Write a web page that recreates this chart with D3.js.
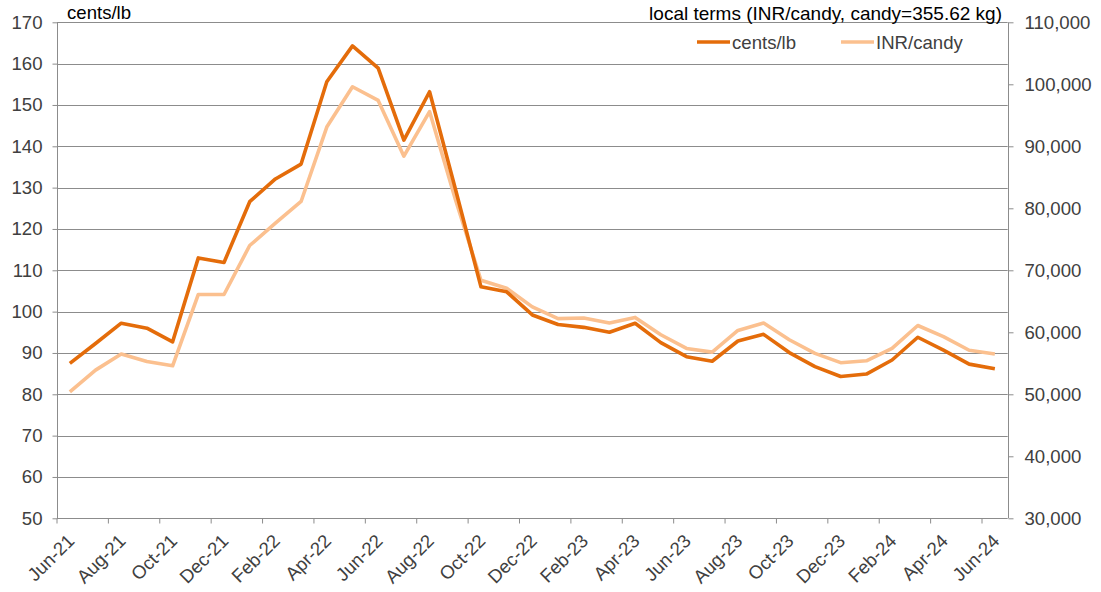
<!DOCTYPE html>
<html>
<head>
<meta charset="utf-8">
<script src="https://cdn.jsdelivr.net/npm/d3@7"></script>
<style>
  html, body { margin: 0; padding: 0; background: #fff; }
  svg { display: block; font-family: "Liberation Sans", Arial, sans-serif; }
</style>
</head>
<body>
<svg id="chart" width="1101" height="592"></svg>
<script>
// ---- data ----
const months = [
  "Jun-21","Jul-21","Aug-21","Sep-21","Oct-21","Nov-21","Dec-21",
  "Jan-22","Feb-22","Mar-22","Apr-22","May-22","Jun-22","Jul-22","Aug-22","Sep-22","Oct-22","Nov-22","Dec-22",
  "Jan-23","Feb-23","Mar-23","Apr-23","May-23","Jun-23","Jul-23","Aug-23","Sep-23","Oct-23","Nov-23","Dec-23",
  "Jan-24","Feb-24","Mar-24","Apr-24","May-24","Jun-24"
];
const centsPerLb = [
  87.5, 92.3, 97.2, 96.0, 92.7, 113.0, 111.9,
  126.6, 132.1, 135.7, 155.6, 164.3, 158.9, 141.5, 153.2, 129.8, 106.0, 104.8, 99.2,
  96.9, 96.2, 95.0, 97.2, 92.5, 89.1, 88.0, 92.9, 94.5, 90.1, 86.7, 84.3,
  84.9, 88.3, 93.8, 90.7, 87.3, 86.2
];
const inrPerCandy = [
  50400, 53900, 56500, 55300, 54600, 66100, 66100,
  74000, 77600, 81100, 93100, 99600, 97400, 88400, 95600, 81500, 68400, 67100, 64100,
  62200, 62300, 61500, 62400, 59600, 57400, 56800, 60300, 61500, 58800, 56600, 55100,
  55400, 57400, 61100, 59300, 57100, 56500
];
const leftTicks = [50, 60, 70, 80, 90, 100, 110, 120, 130, 140, 150, 160, 170];
const rightTicks = [30000, 40000, 50000, 60000, 70000, 80000, 90000, 100000, 110000];
const xLabels = months.filter((m, i) => i % 2 === 0);
const seriesNames = ["cents/lb", "INR/candy"];
const leftTitle = "cents/lb";
const rightTitle = "local terms (INR/candy, candy=355.62 kg)";

// ---- layout ----
const L = 57, R = 1007.7, T = 22.3, B = 518.3;
const dark = "#E46C0A", light = "#FBC08F";
const gridCol = "#8C8C8C", txtCol = "#404040";
const fs = "18.6px";

const svg = d3.select("#chart");
const x = d3.scaleBand().domain(months).range([L, R]).paddingInner(0).paddingOuter(0);
const yL = d3.scaleLinear().domain([50, 170]).range([B, T]);
const yR = d3.scaleLinear().domain([30000, 110000]).range([B, T]);
const bw = x.bandwidth();

// gridlines
svg.append("g").selectAll("line").data(leftTicks).join("line")
  .attr("x1", L).attr("x2", R)
  .attr("y1", d => Math.round(yL(d)) + 0.5).attr("y2", d => Math.round(yL(d)) + 0.5)
  .attr("stroke", gridCol).attr("stroke-width", 1);

// left axis
const gL = svg.append("g").attr("transform", `translate(${Math.round(L) + 0.5},0)`)
  .call(d3.axisLeft(yL).tickValues(leftTicks).tickSize(5).tickPadding(10).tickFormat(d3.format("d")));
gL.select(".domain").attr("stroke", gridCol).attr("d", `M0,${T}V${B}`);
gL.selectAll(".tick line").attr("stroke", gridCol);
gL.selectAll(".tick text").attr("fill", txtCol).style("font-size", fs)
  .style("font-family", "Liberation Sans, Arial, sans-serif");

// right axis
const gR = svg.append("g").attr("transform", `translate(${Math.round(R) + 0.5},0)`)
  .call(d3.axisRight(yR).tickValues(rightTicks).tickSize(5).tickPadding(11).tickFormat(d3.format(",")));
gR.select(".domain").attr("stroke", gridCol).attr("d", `M0,${T}V${B}`);
gR.selectAll(".tick line").attr("stroke", gridCol);
gR.selectAll(".tick text").attr("fill", txtCol).style("font-size", fs)
  .style("font-family", "Liberation Sans, Arial, sans-serif");

// bottom axis
const gB = svg.append("g").attr("transform", `translate(0,${Math.round(B) + 0.5})`)
  .call(d3.axisBottom(x).tickValues(xLabels).tickSize(5).tickSizeOuter(0));
gB.select(".domain").remove();
gB.selectAll(".tick line").attr("stroke", gridCol).attr("x1", -bw / 2).attr("x2", -bw / 2);
gB.selectAll(".tick text").attr("fill", txtCol).style("font-size", fs)
  .style("font-family", "Liberation Sans, Arial, sans-serif")
  .attr("text-anchor", "end")
  .attr("transform", "translate(1,19) rotate(-45)")
  .attr("y", 0).attr("dy", "0.35em").attr("x", 0);

// lines
const lineL = d3.line().x((d, i) => x(months[i]) + bw / 2).y(d => yL(d));
const lineR = d3.line().x((d, i) => x(months[i]) + bw / 2).y(d => yR(d));
svg.append("path").datum(inrPerCandy).attr("d", lineR)
  .attr("fill", "none").attr("stroke", light).attr("stroke-width", 3.6).attr("stroke-linejoin", "round");
svg.append("path").datum(centsPerLb).attr("d", lineL)
  .attr("fill", "none").attr("stroke", dark).attr("stroke-width", 3.6).attr("stroke-linejoin", "round");

// titles
svg.append("text").attr("x", 67).attr("y", 18.5).text(leftTitle)
  .style("font-size", fs).attr("fill", "#000");
svg.append("text").attr("x", 1002).attr("y", 19.5).attr("text-anchor", "end").text(rightTitle)
  .style("font-size", "19px").attr("fill", "#000");

// legend
const legend = [
  { name: seriesNames[0], color: dark, x: 697 },
  { name: seriesNames[1], color: light, x: 841 }
];
const lg = svg.append("g").selectAll("g").data(legend).join("g")
  .attr("transform", d => `translate(${d.x},42)`);
lg.append("line").attr("x1", 0).attr("x2", 33).attr("y1", 0).attr("y2", 0)
  .attr("stroke", d => d.color).attr("stroke-width", 3.6);
lg.append("text").attr("x", 35).attr("y", 0).attr("dy", "0.35em").text(d => d.name)
  .style("font-size", fs).attr("fill", txtCol);
</script>
</body>
</html>
